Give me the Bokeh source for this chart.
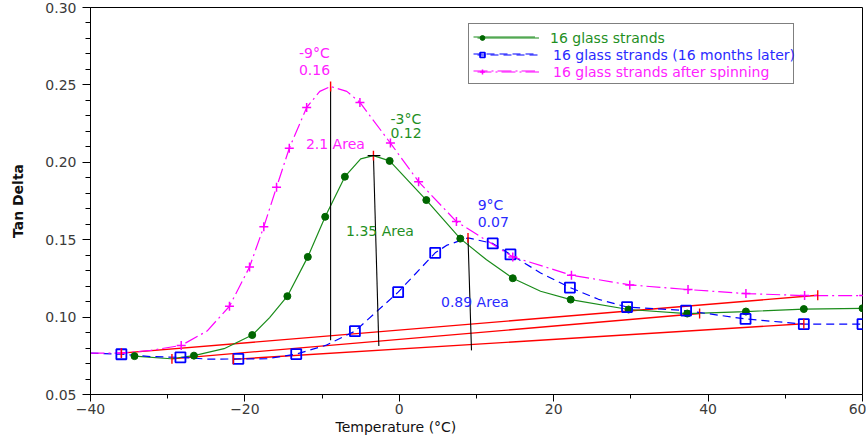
from bokeh.plotting import figure
from bokeh.models import (ColumnDataSource, Legend, LegendItem, FixedTicker, Title,
                          NumeralTickFormatter, BasicTickFormatter)
from bokeh.embed import file_html
from bokeh.resources import INLINE
from bokeh.core.properties import value

# ---- 16 glass strands (solid green, filled circles) ----
green_mark_T = [-34.3, -26.6, -19.05, -14.5, -11.85, -9.6, -7.05, -1.25, 3.5, 7.9,
                14.7, 22.2, 29.7, 37.3, 44.9, 52.4, 60.0]
green_mark_tan = [0.0748, 0.0751, 0.0884, 0.1135, 0.1389, 0.1648, 0.1907, 0.2009, 0.1756,
                  0.1507, 0.1251, 0.1113, 0.1049, 0.1023, 0.1036, 0.1052, 0.1057]
green_line_T = [-34.3, -29.6, -26.6, -22.7, -19.05, -16.8, -14.5, -11.85, -9.6, -7.05, -5.0,
                -3.35, -1.25, 3.5, 7.9, 11.3, 14.7, 18.3, 22.2, 29.7, 37.3, 44.9, 52.4, 60.0]
green_line_tan = [0.0748, 0.0731, 0.0751, 0.0796, 0.0884, 0.0997, 0.1135, 0.1389, 0.1648,
                  0.1907, 0.2022, 0.2043, 0.2009, 0.1756, 0.1507, 0.1370, 0.1251, 0.1167,
                  0.1113, 0.1049, 0.1023, 0.1036, 0.1052, 0.1057]

# ---- 16 glass strands, 16 months later (dashed blue, open squares) ----
blue_mark_T = [-36.0, -28.35, -20.85, -13.35, -5.75, -0.15, 4.65, 12.1, 14.4, 22.1, 29.5,
               37.15, 44.85, 52.4, 60.0]
blue_mark_tan = [0.0760, 0.0740, 0.0730, 0.0761, 0.0909, 0.1161, 0.1415, 0.1476, 0.1405,
                 0.1191, 0.1065, 0.1042, 0.0988, 0.0955, 0.0955]
blue_line_T = [-40.0, -36.0, -32.2, -28.35, -24.6, -20.85, -17.1, -13.35, -9.55, -5.75, -0.15,
               4.65, 6.2, 8.9, 12.1, 14.4, 18.3, 22.1, 25.8, 29.5, 37.15, 44.85, 52.4, 60.0]
blue_line_tan = [0.0767, 0.0760, 0.0745, 0.0740, 0.0728, 0.0730, 0.0731, 0.0761, 0.0817,
                 0.0909, 0.1161, 0.1415, 0.1465, 0.1512, 0.1476, 0.1405, 0.1285, 0.1191,
                 0.1115, 0.1065, 0.1042, 0.0988, 0.0955, 0.0955]

# ---- 16 glass strands after spinning (dash-dot magenta, crosses) ----
mag_mark_T = [-36.0, -28.25, -22.0, -19.4, -17.55, -15.9, -14.25, -12.0, -5.1, -1.15, 2.5,
              7.4, 14.7, 22.3, 29.85, 37.4, 44.9, 52.5, 60.15]
mag_mark_tan = [0.0768, 0.0817, 0.1070, 0.1324, 0.1584, 0.1839, 0.2091, 0.2354, 0.2387,
                0.2124, 0.1875, 0.1617, 0.1389, 0.1271, 0.1208, 0.1178, 0.1152, 0.1139, 0.1139]
mag_line_T = [-40.0, -36.0, -32.2, -28.25, -24.9, -22.0, -19.4, -17.55, -15.9, -14.25, -12.0,
              -10.3, -8.9, -6.8, -5.1, -1.15, 2.5, 7.4, 14.7, 22.3, 29.85, 37.4, 44.9, 52.5, 60.15]
mag_line_tan = [0.0767, 0.0768, 0.0785, 0.0817, 0.0910, 0.1070, 0.1324, 0.1584, 0.1839,
                0.2091, 0.2354, 0.2458, 0.2490, 0.2458, 0.2387, 0.2124, 0.1875, 0.1617,
                0.1389, 0.1271, 0.1208, 0.1178, 0.1152, 0.1139, 0.1139]

# ---- peak analysis: order is spinning, original, 16 months later ----
peak_T = [-8.9, -3.35, 8.9]
peak_tan = [0.2490, 0.2043, 0.1512]
drop_end_T = [-8.9, -2.65, 9.35]
drop_end_tan = [0.0850, 0.0813, 0.0785]
base_start_T = [-36.0, -29.45, -21.5]
base_start_tan = [0.0767, 0.0730, 0.0727]
base_end_T = [54.2, 38.9, 52.4]
base_end_tan = [0.1141, 0.1023, 0.0957]
peak_temp_text = ["-9°C", "-3°C", "9°C"]
peak_height_text = ["0.16", "0.12", "0.07"]
area_text = ["2.1 Area", "1.35 Area", "0.89 Area"]
label_T = [-13.0, -1.15, 10.15]
label_temp_tan = [0.2706, 0.2279, 0.1722]
label_height_tan = [0.2596, 0.2191, 0.1614]
area_T = [-12.1, -6.9, 5.4]
area_tan = [0.2117, 0.1554, 0.1097]

series_names = ["16 glass strands", "16 glass strands (16 months later)",
                "16 glass strands after spinning"]
x_ticks = [-40, -20, 0, 20, 40, 60]
x_minor = [-30, -10, 10, 30, 50]
y_ticks = [0.05, 0.10, 0.15, 0.20, 0.25, 0.30]
y_minor = [round(0.05 + 0.01 * i, 2) for i in range(26)]

FONT = "DejaVu Sans"
GREEN, GREEN_DARK, GREEN_TEXT = "#1a8c1a", "#006600", "#1f8f1f"
BLUE, BLUE_TEXT = "#0000ff", "#2a2aff"
MAG, MAG_TEXT = "#ff00ff", "#ff22ff"
RED = "#ff0000"
series_text = [MAG_TEXT, GREEN_TEXT, BLUE_TEXT]

p = figure(width=866, height=443, x_range=(-40, 60), y_range=(0.05, 0.30),
           output_backend="svg", toolbar_location=None,
           min_border_left=90, min_border_right=4, min_border_top=7, min_border_bottom=49,
           y_axis_label="Tan Delta")
p.background_fill_color = "white"
p.border_fill_color = "white"
p.outline_line_color = "black"
p.outline_line_width = 1
p.xgrid.visible = False
p.ygrid.visible = False

for ax in (p.xaxis[0], p.yaxis[0]):
    ax.axis_line_color = "black"
    ax.major_tick_line_color = "black"
    ax.minor_tick_line_color = "black"
    ax.major_tick_in = 0
    ax.minor_tick_in = 0
    ax.major_label_text_font = FONT
    ax.major_label_text_font_size = "14px"
    ax.major_label_text_color = "#3a3a3a"
    ax.axis_label_text_font = FONT
    ax.axis_label_text_font_size = "14px"
    ax.axis_label_text_color = "#111111"

p.xaxis.ticker = FixedTicker(ticks=x_ticks, minor_ticks=x_minor)
p.yaxis.ticker = FixedTicker(ticks=y_ticks, minor_ticks=y_minor)
p.yaxis.formatter = NumeralTickFormatter(format="0.00")
p.xaxis.formatter = BasicTickFormatter()
p.xaxis.major_tick_out = 7
p.xaxis.minor_tick_out = 4
p.yaxis.major_tick_out = 8
p.yaxis.minor_tick_out = 5
p.xaxis.major_label_standoff = 2
p.yaxis.major_label_standoff = 6
p.yaxis.axis_label_standoff = 16
p.yaxis.axis_label_text_font_style = "bold"

# x-axis title, set under the 0 °C tick
p.add_layout(Title(text="Temperature (°C)", align="left", offset=245, standoff=0,
                   text_font=FONT, text_font_size="14px", text_color="#111111",
                   text_font_style="normal"), "below")

# baselines under each loss peak
p.segment(base_start_T, base_start_tan, base_end_T, base_end_tan,
          line_color=RED, line_width=1.4)

# curves
g_line = p.line(green_line_T, green_line_tan, line_color=GREEN, line_width=1.2)
b_line = p.line(blue_line_T, blue_line_tan, line_color=BLUE, line_width=1.2,
                line_dash="8 5")
m_line = p.line(mag_line_T, mag_line_tan, line_color=MAG, line_width=1.2,
                line_dash="14 4 2 4")

g_pts = p.scatter(green_mark_T, green_mark_tan, marker="circle", size=7,
                  fill_color=GREEN_DARK, line_color=GREEN_DARK)
b_pts = p.scatter(blue_mark_T, blue_mark_tan, marker="square", size=10,
                  fill_color=None, line_color=BLUE, line_width=1.8)
m_pts = p.scatter(mag_mark_T, mag_mark_tan, marker="cross", size=9,
                  line_color=MAG, line_width=1.5)

# vertical drop lines from each peak to its baseline
p.segment(peak_T, peak_tan, drop_end_T, drop_end_tan, line_color="black", line_width=1.1)

# short red cursor ticks at peaks and baseline ends
tick_h = 0.0032
tick_T = peak_T + base_start_T + base_end_T
tick_tan = peak_tan + base_start_tan + base_end_tan
p.segment(tick_T, [v - tick_h for v in tick_tan], tick_T, [v + tick_h for v in tick_tan],
          line_color=RED, line_width=1.4)
# small horizontal cursor at the green peak
p.segment([peak_T[1] - 0.75], [peak_tan[1]], [peak_T[1] + 0.9], [peak_tan[1]],
          line_color="black", line_width=1.1)

# peak annotations
src = ColumnDataSource(dict(x=label_T, y1=label_temp_tan, y2=label_height_tan,
                            t1=peak_temp_text, t2=peak_height_text, c=series_text,
                            ax=area_T, ay=area_tan, at=area_text))
for ycol, tcol, xcol in (("y1", "t1", "x"), ("y2", "t2", "x"), ("ay", "at", "ax")):
    p.text(x=xcol, y=ycol, text=tcol, source=src, text_color="c",
           text_font=value(FONT), text_font_size="14px",
           text_align="left", text_baseline="middle")

# legend frame with the line samples
legend_box = Legend(items=[LegendItem(label="", renderers=[r]) for r in (g_line, b_line, m_line)],
                    location=(378, 310), orientation="vertical", glyph_width=62,
                    glyph_height=17, label_height=17, label_width=242, label_standoff=12,
                    padding=4, spacing=0, margin=0, label_text_font=FONT,
                    label_text_font_size="14px", border_line_color="black",
                    border_line_width=1, background_fill_color="white",
                    background_fill_alpha=1)
p.add_layout(legend_box, "center")

# per-series rows: coloured label text, and the marker at the left end of the sample
rows = [(g_line, g_pts, GREEN_TEXT, 11), (b_line, b_pts, BLUE_TEXT, 14),
        (m_line, m_pts, MAG_TEXT, 14)]
for i, (line_r, pts_r, col, stand) in enumerate(rows):
    y_loc = 394 - 46 - 17 * i
    txt = Legend(items=[LegendItem(label=series_names[i], renderers=[line_r])],
                 location=(387, y_loc), glyph_width=62, glyph_height=17, label_height=17,
                 label_standoff=stand, padding=0, spacing=0, margin=0,
                 label_text_font=FONT, label_text_font_size="14px", label_text_color=col,
                 border_line_alpha=0, background_fill_alpha=0)
    mark = Legend(items=[LegendItem(label="", renderers=[pts_r])],
                  location=(386, y_loc), glyph_width=12, glyph_height=17, label_height=17,
                  label_standoff=0, padding=0, spacing=0, margin=0,
                  label_text_font=FONT, label_text_font_size="14px",
                  border_line_alpha=0, background_fill_alpha=0)
    p.add_layout(txt, "center")
    p.add_layout(mark, "center")

open("out.html", "w").write(file_html(p, INLINE))
